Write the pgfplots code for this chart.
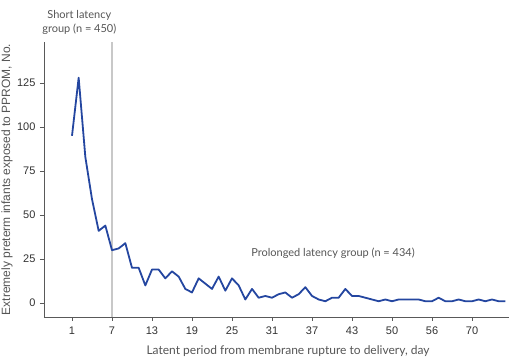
\documentclass[border=0pt]{standalone}
\usepackage{fontspec}
\setmainfont{Liberation Sans}
\newfontfamily\lato{Lato}
\usepackage{pgfplots}
\pgfplotsset{compat=1.18}
\usepackage{pgfplotstable}
\definecolor{lineblue}{RGB}{36,70,160}
\definecolor{txtgrey}{RGB}{85,85,85}
\definecolor{tickgrey}{RGB}{50,50,50}
\definecolor{vgrey}{RGB}{200,200,200}
\pgfplotstableread{
i y
0 95
1 128
2 83
3 59
4 41
5 44
6 30
7 31
8 34
9 20
10 20
11 10
12 19
13 19
14 14
15 18
16 15
17 8
18 6
19 14
20 11
21 8
22 15
23 7
24 14
25 10
26 2
27 8
28 3
29 4
30 3
31 5
32 6
33 3
34 5
35 9
36 4
37 2
38 1
39 3
40 3
41 8
42 4
43 4
44 3
45 2
46 1
47 2
48 1
49 2
50 2
51 2
52 2
53 1
54 1
55 3
56 1
57 1
58 2
59 1
60 1
61 2
62 1
63 2
64 1
65 1
}\datatable
\begin{document}
\begin{tikzpicture}[x=1pt,y=1pt]
\begin{axis}[
  at={(44pt,44pt)}, anchor=south west,
  scale only axis,
  width=465pt, height=275pt,
  xmin=-4.2, xmax=65.55,
  ymin=-7.95, ymax=148.3,
  axis x line*=bottom, axis y line*=left,
  axis line style={draw=black!65, line width=0.8pt, -},
  tick align=outside,
  major tick length=4pt,
  tick style={draw=black!65, line width=0.8pt},
  xtick={0,6,12,18,24,30,36,42,48,54,60},
  xticklabels={1,7,13,19,25,31,37,43,50,56,70},
  ytick={0,25,50,75,100,125},
  /pgf/number format/assume math mode=true,
  tick label style={font=\fontsize{11}{13}\selectfont, text=tickgrey},
  xticklabel style={anchor=base, yshift=-14pt},
  yticklabel style={anchor=east, xshift=-1pt},
  xlabel={\lato Latent period from membrane rupture to delivery, day},
  xlabel style={at={(rel axis cs:0.5247,0)}, anchor=base, yshift=-38pt, font=\fontsize{12}{14}\selectfont, text=txtgrey},
  ylabel={Extremely preterm infants exposed to PPROM, No.},
  ylabel style={at={([xshift=-37pt]rel axis cs:0,0.5)}, anchor=center, font=\fontsize{12}{14}\selectfont, text=txtgrey},
  clip=false,
]
\addplot[vgrey, line width=1.2pt] coordinates {(6,-7.95) (6,148.3)};
\addplot[lineblue, line width=1.8pt, line join=round] table[x=i, y=y] {\datatable};
\node[align=center, text=txtgrey, font=\lato\fontsize{11}{14}\selectfont] at (axis cs:1.1,159.5) {Short latency\\group (n = 450)};
\node[text=txtgrey, font=\lato\fontsize{11}{13}\selectfont] at (axis cs:39.15,28) {Prolonged latency group (n = 434)};
\end{axis}
\pgfresetboundingbox
\path (0,0) rectangle (509pt,361pt);
\end{tikzpicture}
\end{document}
